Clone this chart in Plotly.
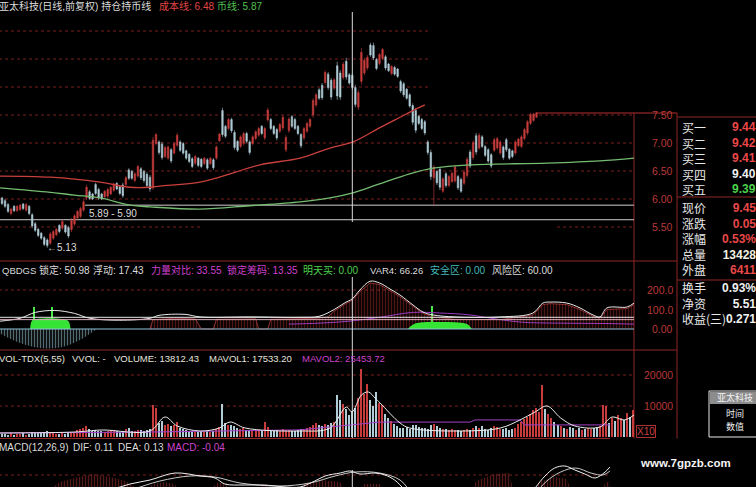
import plotly.graph_objects as go

W, H = 756, 487
FONT = "Liberation Sans, Noto Sans CJK SC, sans-serif"
CJK = "Noto Sans CJK SC, sans-serif"

# ---------------- daily candles, oldest first ----------------
opens = [
    6.02, 5.97, 5.90, 5.74, 5.87, 5.79, 5.81, 5.91, 5.80, 5.87,
    5.72, 5.56, 5.46, 5.39, 5.31, 5.27, 5.21, 5.30, 5.36, 5.53,
    5.48, 5.53, 5.49, 5.45, 5.55, 5.66, 5.69, 5.80, 6.02, 6.13,
    6.09, 6.26, 6.17, 6.09, 6.04, 6.05, 6.09, 6.15, 6.28, 6.22,
    6.25, 6.26, 6.52, 6.49, 6.33, 6.41, 6.54, 6.49, 6.44, 6.39,
    6.20, 6.99, 7.02, 6.98, 6.76, 6.73, 6.88, 6.82, 6.96, 7.02,
    6.99, 6.86, 6.80, 6.72, 6.64, 6.73, 6.71, 6.63, 6.70, 6.63,
    6.70, 6.73, 7.04, 7.58, 7.30, 7.26, 7.42, 7.19, 7.03, 6.94,
    6.99, 7.17, 7.02, 6.99, 7.08, 7.14, 7.30, 7.09, 7.41, 7.42,
    7.30, 7.24, 7.21, 7.27, 6.88, 7.22, 7.47, 7.42, 7.30, 7.15,
    7.09, 7.21, 7.30, 7.50, 7.68, 7.95, 8.03, 8.08, 8.23, 8.12,
    7.98, 8.38, 8.25, 8.17, 8.46, 8.22, 8.21, 7.99, 7.64, 8.10,
    8.25, 8.34, 8.75, 8.74, 8.49, 8.42, 8.51, 8.54, 8.41, 8.24,
    8.35, 8.32, 8.10, 8.06, 7.96, 7.86, 7.67, 7.58, 7.48, 7.42,
    7.38, 7.02, 6.83, 6.38, 6.49, 6.53, 6.14, 6.45, 6.24, 6.31,
    6.32, 6.40, 6.35, 6.28, 6.42, 6.84, 6.74, 7.13, 6.91, 7.11,
    6.94, 6.88, 6.79, 6.87, 6.91, 6.82, 6.93, 7.06, 6.89, 6.86,
    6.82, 6.95, 6.94, 7.08, 7.18, 7.35, 7.40, 7.46,
]
highs = [
    6.04, 6.00, 5.93, 5.84, 5.89, 5.89, 5.91, 5.93, 5.93, 5.89,
    5.75, 5.59, 5.48, 5.41, 5.34, 5.30, 5.41, 5.45, 5.48, 5.55,
    5.63, 5.55, 5.52, 5.66, 5.73, 5.80, 5.86, 5.98, 6.25, 6.16,
    6.11, 6.29, 6.20, 6.11, 6.16, 6.20, 6.23, 6.29, 6.30, 6.25,
    6.29, 6.41, 6.55, 6.52, 6.48, 6.61, 6.57, 6.52, 6.48, 6.43,
    7.11, 7.18, 7.05, 7.02, 6.95, 6.96, 6.91, 7.02, 7.18, 7.05,
    7.02, 6.88, 6.82, 6.75, 6.79, 6.75, 6.73, 6.75, 6.73, 6.75,
    6.73, 6.96, 7.18, 7.63, 7.32, 7.45, 7.45, 7.23, 7.05, 7.14,
    7.20, 7.20, 7.05, 7.14, 7.23, 7.29, 7.32, 7.29, 7.63, 7.45,
    7.32, 7.27, 7.36, 7.50, 7.14, 7.46, 7.50, 7.45, 7.32, 7.18,
    7.29, 7.38, 7.45, 7.80, 7.89, 7.98, 8.07, 8.30, 8.27, 8.16,
    8.16, 8.45, 8.30, 8.45, 8.52, 8.25, 8.25, 8.04, 7.95, 8.70,
    8.52, 8.57, 8.79, 8.79, 8.52, 8.61, 8.70, 8.57, 8.43, 8.39,
    8.38, 8.34, 8.13, 8.09, 7.98, 7.89, 7.71, 7.63, 7.50, 7.45,
    7.41, 7.05, 6.88, 6.61, 6.52, 6.57, 6.39, 6.48, 6.43, 6.48,
    6.61, 6.43, 6.38, 6.52, 6.75, 6.88, 7.05, 7.18, 7.18, 7.14,
    6.96, 6.91, 6.82, 7.09, 7.11, 7.05, 6.96, 7.09, 6.91, 6.88,
    7.05, 7.09, 7.14, 7.27, 7.41, 7.54, 7.54, 7.55,
]
lows = [
    5.89, 5.84, 5.75, 5.71, 5.77, 5.77, 5.79, 5.80, 5.77, 5.71,
    5.48, 5.41, 5.32, 5.27, 5.16, 5.13, 5.18, 5.27, 5.34, 5.39,
    5.45, 5.38, 5.30, 5.41, 5.52, 5.63, 5.66, 5.77, 5.98, 5.98,
    5.98, 6.07, 5.98, 5.98, 6.02, 6.02, 6.07, 6.13, 6.16, 6.07,
    6.02, 6.23, 6.34, 6.34, 6.30, 6.38, 6.34, 6.29, 6.20, 6.13,
    6.16, 6.96, 6.79, 6.70, 6.73, 6.70, 6.64, 6.79, 6.93, 6.84,
    6.79, 6.70, 6.64, 6.55, 6.61, 6.57, 6.55, 6.61, 6.52, 6.61,
    6.52, 6.70, 7.02, 7.11, 7.09, 7.23, 7.18, 6.88, 6.84, 6.91,
    6.96, 7.00, 6.79, 6.96, 7.05, 7.11, 7.14, 7.05, 7.38, 7.23,
    7.14, 7.05, 7.18, 7.23, 6.84, 7.18, 7.27, 7.23, 7.14, 6.91,
    7.05, 7.18, 7.27, 7.45, 7.64, 7.77, 7.77, 8.04, 7.95, 7.77,
    7.95, 7.77, 7.77, 8.13, 8.13, 8.04, 7.95, 7.64, 7.59, 8.04,
    8.21, 8.30, 8.54, 8.48, 8.30, 8.39, 8.48, 8.30, 8.27, 8.21,
    8.20, 8.16, 7.89, 7.82, 7.77, 7.63, 7.32, 7.18, 7.32, 7.23,
    7.14, 6.79, 6.34, 5.89, 6.25, 6.16, 6.11, 6.20, 6.21, 6.29,
    6.29, 6.16, 6.11, 6.25, 6.38, 6.55, 6.70, 6.79, 6.88, 6.91,
    6.75, 6.64, 6.55, 6.84, 6.88, 6.79, 6.70, 6.84, 6.70, 6.73,
    6.79, 6.93, 6.91, 7.05, 7.14, 7.32, 7.38, 7.45,
]
closes = [
    5.92, 5.87, 5.78, 5.82, 5.79, 5.87, 5.89, 5.83, 5.90, 5.74,
    5.52, 5.44, 5.35, 5.30, 5.19, 5.17, 5.38, 5.42, 5.46, 5.42,
    5.60, 5.41, 5.34, 5.62, 5.70, 5.78, 5.83, 5.95, 6.21, 6.01,
    6.00, 6.10, 6.02, 6.00, 6.14, 6.17, 6.21, 6.27, 6.18, 6.10,
    6.06, 6.38, 6.37, 6.37, 6.45, 6.58, 6.38, 6.33, 6.24, 6.18,
    7.05, 7.15, 6.83, 6.74, 6.92, 6.93, 6.68, 6.99, 7.14, 6.87,
    6.82, 6.73, 6.67, 6.58, 6.76, 6.60, 6.58, 6.73, 6.55, 6.73,
    6.56, 6.93, 7.16, 7.15, 7.12, 7.42, 7.22, 6.92, 6.87, 7.11,
    7.17, 7.03, 6.83, 7.11, 7.20, 7.26, 7.17, 7.26, 7.59, 7.26,
    7.17, 7.09, 7.33, 7.46, 7.10, 7.43, 7.30, 7.26, 7.17, 6.95,
    7.26, 7.35, 7.42, 7.76, 7.86, 7.80, 7.81, 8.26, 7.99, 7.82,
    8.13, 7.84, 7.82, 8.41, 8.18, 8.07, 7.99, 7.69, 7.90, 8.62,
    8.48, 8.53, 8.57, 8.52, 8.33, 8.58, 8.67, 8.34, 8.29, 8.37,
    8.23, 8.19, 7.93, 7.86, 7.80, 7.66, 7.37, 7.23, 7.35, 7.26,
    7.18, 6.83, 6.40, 6.57, 6.29, 6.21, 6.36, 6.24, 6.40, 6.46,
    6.57, 6.20, 6.14, 6.48, 6.71, 6.59, 7.01, 6.84, 7.14, 6.94,
    6.78, 6.68, 6.59, 7.06, 7.08, 7.02, 6.74, 6.88, 6.73, 6.76,
    7.02, 7.07, 7.11, 7.24, 7.38, 7.51, 7.52, 7.54,
]
# up (1) / down (0) for the later sessions traded above the visible price window
hidden_up = [1, 1, 0, 1, 1, 0, 0, 1, 0, 1, 0, 0, 1, 0, 1, 0,
             1, 1, 0, 0, 1, 1, 1, 0, 1, 0, 1, 1, 0, 1, 0, 1]

# cost line (red) and holding line (green), sampled by session index
cost_i = [-0.7, 16, 32.5, 42.4, 49, 52.3, 65.6, 72, 85.4, 98.7, 108.6, 116.2, 125, 131.8, 138.4, 140]
cost_v = [6.41, 6.39, 6.30, 6.21, 6.21, 6.23, 6.30, 6.39, 6.61, 6.73, 6.91, 7.02, 7.27, 7.46, 7.64, 7.68]
hold_i = [-0.7, 16, 24, 32.5, 42.4, 49, 65.6, 82, 98.7, 108.6, 116.2, 125, 135, 142.7, 155, 180.5, 198, 209.3]
hold_v = [6.20, 6.12, 6.07, 6.02, 5.89, 5.86, 5.82, 5.88, 5.95, 6.02, 6.11, 6.27, 6.45, 6.55, 6.61, 6.64, 6.68, 6.73]

band_start_i = 27.5
band_top = 5.89
band_low = 5.63
cursor_i = 116
price_ticks = [7.5, 7.0, 6.5, 6.0, 5.5]
price_grid = [9.0, 8.5, 8.0, 7.5, 7.0, 6.5, 6.0, 5.5]

# ---------------- QBDGS indicator ----------------
qb_line_i = [-0.7, 6, 11, 17.5, 24, 29, 39, 49, 52, 60.6, 65.6, 82, 98.7, 105, 110, 113.6, 116, 118.5,
             121.9, 125, 128.5, 131.8, 136.1, 139.4, 142.7, 150, 165, 175.8, 179.1, 181.5, 187, 191.4,
             195.7, 198, 200.3, 207, 209.3]
qb_line_v = [40, 55, 85, 95, 80, 55, 45, 55, 70, 75, 62, 62, 60, 65, 100, 135, 155, 200,
             245, 236, 205, 174, 123, 87, 72, 62, 62, 82, 133, 138, 133, 108,
             72, 62, 108, 113, 133]
qb_bar_i = [49, 50, 57, 64, 66, 70, 71, 84, 85, 88, 89, 104, 108, 110, 113.6, 116, 118.5, 121.9, 125,
            128.5, 131.8, 136.1, 139.4, 142.7, 150, 165, 175.8, 179.1, 181.5, 187, 191.4, 195.7, 198,
            200.3, 207, 209.3]
qb_bar_v = [0, 48, 55, 52, 0, 0, 50, 52, 0, 0, 50, 55, 62, 92, 128, 148, 192, 236, 228,
            197, 166, 116, 80, 62, 50, 48, 72, 125, 130, 125, 100, 65, 55,
            100, 105, 125]
qb_neg_i = [-1, 6, 12.6, 19.2, 25.8, 30, 31.5]
qb_neg_v = [-20, -72, -97, -95, -56, -15, 0]
buy_zone1_i = [9.3, 10, 12, 16, 20, 22, 22.7]
buy_zone1_v = [0, 45, 52, 55, 50, 40, 0]
buy_zone2_i = [134.4, 136, 139, 145, 150, 154, 155.6]
buy_zone2_v = [0, 22, 34, 36, 34, 25, 0]
buy_spike_i = [10.6, 16.6, 142.4]
buy_spike_v = [113, 113, 118]
qb_purple_i = [95, 105, 115, 125, 136, 145, 155, 162, 172, 185, 200, 209.3]
qb_purple_v = [25, 30, 40, 60, 85, 82, 72, 55, 35, 30, 28, 25]
qb_risk = 60
qb_lock = 48
qb_ticks = [(200, "200.0"), (100, "100.0"), (0, "0.00")]

# ---------------- volume ----------------
volume = [
    900, 1100, 800, 1200, 700, 1000, 900, 1300, 800, 1100,
    1500, 1400, 1200, 1300, 1600, 1800, 1400, 1200, 1100, 1000,
    1300, 900, 1200, 1500, 1400, 2200, 2500, 2800, 3500, 2600,
    2000, 2400, 1800, 2000, 1700, 1900, 2100, 2300, 1800, 1600,
    2000, 2500, 2800, 2000, 1900, 2400, 2100, 1800, 2200, 2600,
    10300, 9400, 4500, 5200, 3800, 4200, 3500, 3900, 4800, 3000,
    2600, 2200, 1900, 2000, 1700, 1500, 1800, 1600, 2000, 1700,
    1900, 2500, 3200, 10600, 4500, 3800, 4000, 3500, 2800, 2500,
    3000, 2400, 2200, 2000, 2300, 1800, 2100, 5000, 3200, 2400,
    2000, 2200, 1900, 2600, 2100, 2300, 1800, 2000, 2200, 2500,
    2100, 2800, 3200, 3800, 4500, 4000, 3600, 4200, 3900, 4600,
    5000, 13500, 12000, 10500, 9000, 7000, 8500, 9500, 12500, 21900,
    14000, 17000, 12000, 10000, 14500, 11000, 10300, 7500, 6000, 5200,
    4200, 3500, 3000, 2800, 3200, 2600, 3800, 4000, 3300, 2800,
    3000, 2600, 3800, 4200, 3600, 2900, 2500, 2700, 2300, 2600,
    2100, 2400, 2000, 2300, 2600, 2200, 2800, 3400, 3000, 3600,
    2600, 2400, 2800, 3500, 3100, 2700, 2500, 2900, 2300, 2600,
    3000, 4200, 5000, 5800, 6500, 7500, 8700, 9500, 8200, 16800,
    9000, 7500, 6000, 4800, 4000, 3500, 3000, 2600, 3200, 2800,
    2400, 2900, 2200, 2600, 3000, 2500, 2800, 3300, 3600, 10300,
    10000, 4500, 6200, 5200, 7000, 6000, 5600, 7600, 6400, 8700,
]
mavol1_i = [-0.7, 24, 33, 49, 54, 58, 65.6, 72, 75.5, 80.5, 98.7, 108.6, 114, 115.9, 119, 121.3,
            123.5, 125.2, 131.8, 135, 152, 165, 171.5, 176.5, 180.5, 185, 189.7, 198, 202, 206, 209.3]
mavol1_v = [1290, 1610, 2260, 1935, 6450, 3550, 1935, 2900, 4840, 2900, 1935, 2900, 9680, 8065, 13550, 14520,
            12580, 10970, 4520, 2900, 1935, 2900, 5480, 8065, 10000, 6130, 3550, 3230, 6450, 5480, 7100]
mavol2_i = [-0.7, 49, 98.7, 112, 125, 155, 156.6, 171.5, 173, 201.3]
mavol2_v = [1300, 1600, 2300, 3500, 4800, 4800, 5500, 5500, 3900, 3900]
vol_ticks = [(20000, "20000"), (10000, "10000")]

# ---------------- MACD ----------------
dif_i = [29, 35.8, 42.4, 49, 57.3, 65.6, 70.5, 73.8, 80.5, 87, 93.7, 98.7, 103.6, 107, 112, 115.2, 118.5,
         123.5, 126.8, 130, 133.4, 136.8, 145, 160, 170, 173.2, 176.5, 179.8, 183, 186.4, 189.7, 193,
         196.4, 199.7, 201.3]
dif_v = [-0.08, -0.03, 0.03, 0.07, 0.14, 0.11, 0.09, 0.03, 0.02, 0.02, 0.00, 0.00, 0.06, 0.11, 0.14, 0.16, 0.13,
         0.14, 0.12, 0.07, -0.03, -0.13, -0.30, -0.35, -0.25, -0.13, -0.01, 0.11, 0.19, 0.21, 0.17, 0.13,
         0.09, 0.15, 0.20]
dea_i = [29, 42.4, 52.3, 62.3, 70.5, 78.8, 92, 102, 110.3, 117, 125, 131.8, 137, 150, 165, 174.8, 180, 185,
         190, 195, 199, 201.3]
dea_v = [-0.12, -0.03, 0.06, 0.11, 0.10, 0.04, 0.01, 0.04, 0.11, 0.15, 0.14, 0.07, -0.10, -0.30, -0.30, -0.13,
         0.05, 0.15, 0.19, 0.14, 0.12, 0.16]
macd_i = [17, 19, 24, 30, 36, 41, 44, 49, 50, 54, 57, 58, 70, 71, 74, 75, 86, 87, 88, 99, 100, 106, 112,
          113, 119, 120, 125, 126, 156, 157, 163, 168, 169, 177, 178, 183, 187, 188, 199, 200, 201, 201.5]
macd_v = [0, 0.05, 0.09, 0.13, 0.10, 0.06, 0, 0, 0.03, 0.05, 0.03, 0, 0, 0.04, 0.04, 0, 0, 0.03, 0, 0,
          0.04, 0.07, 0.05, 0, 0, 0.03, 0.03, 0, 0, 0.06, 0.13, 0.14, 0, 0, 0.05, 0.10, 0.08, 0, 0, 0.05,
          0.05, 0]
macd_grid = 0.12

# ---------------- quote panel (three boxed groups) ----------------
RED_Q, WHITE_Q, GREEN_Q = "#e84848", "#f0f0f0", "#4cd04c"
quote_groups = [
    (158, [("买一", "9.44", RED_Q), ("买二", "9.42", RED_Q), ("买三", "9.41", RED_Q),
           ("买四", "9.40", WHITE_Q), ("买五", "9.39", GREEN_Q)]),
    (238.5, [("现价", "9.45", RED_Q), ("涨跌", "0.05", RED_Q), ("涨幅", "0.53%", RED_Q),
             ("总量", "13428", "#f0f0e0"), ("外盘", "6411", RED_Q)]),
    (303, [("换手", "0.93%", WHITE_Q), ("净资", "5.51", WHITE_Q), ("收益(三)", "0.271", WHITE_Q)]),
]
popup_title = "亚太科技"
popup_items = [("时间", 413), ("数值", 426)]

# ---------------- colours ----------------
UP = "#c83c3c"
DOWN = "#b0ccd6"
GRID = "#7a2020"
FRAME = "#8e2626"
AXIS_TXT = "#b83838"
WHITE = "#dcdcdc"
MAGENTA = "#cc44cc"


def px(x):
    return x / W


def py(y):
    return 1 - y / H


def dom(top, bot):
    return [1 - bot / H, 1 - top / H]


x_dom = [0, 634 / W]
x_rng = [-0.662, 209.27]

fig = go.Figure()

# price panel
fig.add_trace(go.Candlestick(
    x=list(range(len(opens))), open=opens, high=highs, low=lows, close=closes,
    increasing=dict(line=dict(color=UP, width=0.6), fillcolor=UP),
    decreasing=dict(line=dict(color=DOWN, width=0.6), fillcolor=DOWN),
    whiskerwidth=0, hoverinfo="skip", xaxis="x", yaxis="y"))
fig.add_trace(go.Scatter(x=cost_i, y=cost_v, mode="lines", line=dict(color="#c8403c", width=1.3, shape="spline"),
                         hoverinfo="skip", xaxis="x", yaxis="y"))
fig.add_trace(go.Scatter(x=hold_i, y=hold_v, mode="lines", line=dict(color="#74bc70", width=1.3, shape="spline"),
                         hoverinfo="skip", xaxis="x", yaxis="y"))

# QBDGS panel
fig.add_trace(go.Scatter(x=qb_neg_i, y=qb_neg_v, mode="lines", line=dict(width=0, shape="spline"), fill="tozeroy",
                         fillcolor="rgba(0,0,0,0)",
                         fillpattern=dict(shape="|", fgcolor="#a8d4e6", bgcolor="rgba(0,0,0,0)", size=3, solidity=0.45),
                         hoverinfo="skip", xaxis="x2", yaxis="y2"))
fig.add_trace(go.Scatter(x=qb_bar_i, y=qb_bar_v, mode="lines", line=dict(width=0.8, color="#b03a3a"), fill="tozeroy",
                         fillcolor="rgba(0,0,0,0)",
                         fillpattern=dict(shape="|", fgcolor="#9e2c2c", bgcolor="rgba(0,0,0,0)", size=3, solidity=0.45),
                         hoverinfo="skip", xaxis="x2", yaxis="y2"))
for zi, zv in ((buy_zone1_i, buy_zone1_v), (buy_zone2_i, buy_zone2_v)):
    fig.add_trace(go.Scatter(x=zi, y=zv, mode="lines", line=dict(width=0, shape="spline"), fill="tozeroy",
                             fillcolor="#36e436", hoverinfo="skip", xaxis="x2", yaxis="y2"))
fig.add_trace(go.Bar(x=buy_spike_i, y=buy_spike_v, width=0.45, marker=dict(color="#48e848", line=dict(width=0)),
                     hoverinfo="skip", xaxis="x2", yaxis="y2"))
fig.add_trace(go.Scatter(x=qb_purple_i, y=qb_purple_v, mode="lines", line=dict(color="#9a3cc0", width=1, shape="spline"),
                         hoverinfo="skip", xaxis="x2", yaxis="y2"))
fig.add_trace(go.Scatter(x=qb_line_i, y=qb_line_v, mode="lines", line=dict(color="#ececec", width=1, shape="spline"),
                         hoverinfo="skip", xaxis="x2", yaxis="y2"))

# volume panel
vol_colors = []
for i in range(len(volume)):
    if i < len(closes):
        up = closes[i] >= opens[i]
    else:
        up = hidden_up[i - len(closes)] == 1
    vol_colors.append(UP if up else DOWN)
fig.add_trace(go.Bar(x=list(range(len(volume))), y=volume, width=0.45,
                     marker=dict(color=vol_colors, line=dict(width=0)), hoverinfo="skip", xaxis="x3", yaxis="y3"))
fig.add_trace(go.Scatter(x=mavol2_i, y=mavol2_v, mode="lines", line=dict(color="#a040c8", width=1),
                         hoverinfo="skip", xaxis="x3", yaxis="y3"))
fig.add_trace(go.Scatter(x=mavol1_i, y=mavol1_v, mode="lines", line=dict(color="#ececec", width=1, shape="spline"),
                         hoverinfo="skip", xaxis="x3", yaxis="y3"))

# MACD panel
fig.add_trace(go.Scatter(x=macd_i, y=macd_v, mode="lines", line=dict(width=0), fill="tozeroy",
                         fillcolor="rgba(0,0,0,0)",
                         fillpattern=dict(shape="|", fgcolor="#a83232", bgcolor="rgba(0,0,0,0)", size=3, solidity=0.45),
                         hoverinfo="skip", xaxis="x4", yaxis="y4"))
fig.add_trace(go.Scatter(x=dea_i, y=dea_v, mode="lines", line=dict(color="#c8c8c8", width=1, shape="spline"),
                         hoverinfo="skip", xaxis="x4", yaxis="y4"))
fig.add_trace(go.Scatter(x=dif_i, y=dif_v, mode="lines", line=dict(color="#f0f0f0", width=1, shape="spline"),
                         hoverinfo="skip", xaxis="x4", yaxis="y4"))

# ---------------- shapes ----------------
shapes = []


def hline(y, x0, x1, xref, yref, color, width=1, dash="solid", layer="below"):
    shapes.append(dict(type="line", xref=xref, yref=yref, x0=x0, x1=x1, y0=y, y1=y,
                       line=dict(color=color, width=width, dash=dash), layer=layer))


def vline(x, y0, y1, xref, yref, color, width=1, layer="below"):
    shapes.append(dict(type="line", xref=xref, yref=yref, x0=x, x1=x, y0=y0, y1=y1,
                       line=dict(color=color, width=width), layer=layer))


for p in price_grid:
    if p > 7.5:
        spans = [(-1, 141.7)]
    elif p == 5.5:
        spans = [(-1, 65.6), (183.8, 209.3)]
    else:
        spans = [(-1, 209.3)]
    for a, b in spans:
        hline(p, a, b, "x", "y", GRID, 1, "dot")

hline(band_top, band_start_i, 209.3, "x", "y", "#cfcfcf", 1)
hline(band_low, -1, 209.3, "x", "y", "#cfcfcf", 1)

hline(200, -1, 209.3, "x2", "y2", GRID, 1, "dot")
hline(qb_risk, -1, 209.3, "x2", "y2", "#e6e6e6", 1, layer="above")
hline(qb_lock, -1, 209.3, "x2", "y2", "#d8a8b8", 1, layer="above")
hline(0, -1, 209.3, "x2", "y2", "#90c4dc", 1, layer="above")

for v, _ in vol_ticks:
    hline(v, -1, 209.3, "x3", "y3", GRID, 1, "dot")
hline(macd_grid, -1, 201.6, "x4", "y4", GRID, 1, "dot")

# crosshair
vline(cursor_i, 9.34, 5.59, "x", "y", "#d8d8d8", 1, "above")
vline(cursor_i, 267, -108, "x2", "y2", "#d8d8d8", 1, "above")
vline(cursor_i, 0, 1, "x3", "y3 domain", "#d8d8d8", 1, "above")
vline(cursor_i, 0.17, 0, "x4", "y4", "#d8d8d8", 1, "above")

# frames and separators (pixel layout)
hline(py(261), 0, px(677), "paper", "paper", FRAME, 1)
hline(py(350), 0, px(677), "paper", "paper", FRAME, 1)
hline(py(438.5), 0, px(610), "paper", "paper", FRAME, 1)
hline(py(113), px(537), px(677), "paper", "paper", "#b83030", 1)
vline(px(634), py(113), py(438.5), "paper", "paper", FRAME, 1)
vline(px(677), py(113), py(438.5), "paper", "paper", FRAME, 1)
for yy in (117, 197, 280):
    hline(py(yy), px(677), 1, "paper", "paper", FRAME, 1)

# quote popup
shapes.append(dict(type="rect", xref="paper", yref="paper", x0=px(709), x1=px(762), y0=py(437), y1=py(391),
                   line=dict(color="#e8e8e8", width=1), fillcolor="#000000", layer="above"))
shapes.append(dict(type="rect", xref="paper", yref="paper", x0=px(710), x1=px(762), y0=py(404), y1=py(392),
                   line=dict(width=0), fillcolor="#8c8c8c", layer="above"))

# ---------------- text ----------------
ann = []


def text(x, y, s, color=WHITE, size=10, anchor="left", family=FONT, **kw):
    ann.append(dict(xref="paper", yref="paper", x=px(x), y=py(y), text=s, showarrow=False,
                    xanchor=anchor, yanchor="middle", font=dict(color=color, size=size, family=family), **kw))


# headers
text(-3, 6, "亚太科技(日线,前复权) 持仓持币线", WHITE, 10)
text(157, 6, "成本线: 6.48", "#e04646", 10)
text(215, 6, "币线: 5.87", "#52c052", 10)

text(0, 270, "QBDGS", WHITE, 9.5)
text(37, 270, "锁定: 50.98", WHITE, 10)
text(146, 270, "浮动: 17.43", WHITE, 10, anchor="right")
text(149, 270, "力量对比: 33.55", "#d040d0", 10)
text(225, 270, "锁定筹码: 13.35", "#d040d0", 10)
text(301, 270, "明天买: 0.00", "#4cd04c", 10)
text(368, 270, "VAR4: 66.26", WHITE, 9.5)
text(428, 270, "安全区: 0.00", "#40b8b8", 10)
text(490, 270, "风险区: 60.00", WHITE, 10)

text(-3, 358, "VOL-TDX(5,55)", "#e4e4dc", 9.5)
text(70, 358, "VVOL: -", "#e4e4dc", 9.5)
text(112, 358, "VOLUME: 13812.43", "#e4e4dc", 9.5)
text(207, 358, "MAVOL1: 17533.20", "#e4e4dc", 9.5)
text(300, 358, "MAVOL2: 25453.72", MAGENTA, 9.5)

text(-3, 447, "MACD(12,26,9)", WHITE, 10)
text(71, 447, "DIF: 0.11", WHITE, 10)
text(116, 447, "DEA: 0.13", WHITE, 10)
text(165, 447, "MACD: -0.04", MAGENTA, 10)

# right-hand scales
for v in price_ticks:
    ann.append(dict(xref="paper", yref="y", x=px(675), y=v, text=f"{v:.2f}", showarrow=False,
                    xanchor="right", yanchor="middle", font=dict(color=AXIS_TXT, size=10.5, family=FONT)))
for v, s in qb_ticks:
    ann.append(dict(xref="paper", yref="y2", x=px(675), y=v, text=s, showarrow=False,
                    xanchor="right", yanchor="middle", font=dict(color=AXIS_TXT, size=10.5, family=FONT)))
for v, s in vol_ticks:
    ann.append(dict(xref="paper", yref="y3", x=px(675), y=v, text=s, showarrow=False,
                    xanchor="right", yanchor="middle", font=dict(color=AXIS_TXT, size=10.5, family=FONT)))
text(645.5, 431, "X10", "#c84040", 10, anchor="center", bordercolor="#a83030", borderwidth=1, borderpad=0)

# chart labels
low_i = lows.index(min(lows))
ann.append(dict(xref="x", yref="y", x=low_i, y=min(lows), text=f"←{min(lows):.2f}", showarrow=False,
                xanchor="left", yanchor="middle", xshift=-2, font=dict(color=WHITE, size=10, family=FONT)))
ann.append(dict(xref="x", yref="y", x=28, y=5.75, text=f"{band_top:.2f} - 5.90", showarrow=False,
                xanchor="left", yanchor="middle", font=dict(color=WHITE, size=10, family=FONT)))

# quote list: one text block per boxed group
for yc, rows in quote_groups:
    labels = "<br>".join(lab for lab, _, _ in rows)
    values = "<br>".join(f"<span style='color:{col}'><b>{val}</b></span>" for _, val, col in rows)
    text(680, yc, labels, "#e8e8e8", 12, family=CJK, align="left")
    text(758, yc, values, WHITE_Q, 12, anchor="right", align="right")

# popup title bar and items
text(735, 397.5, popup_title, "#f4f4f4", 9, anchor="center", family=CJK)
for lab, yy in popup_items:
    text(735, yy, lab, "#f0f0f0", 9, anchor="center", family=CJK)

# footer
text(638, 463, "<b>www.7gpzb.com</b>", "#f4f4f4", 11.5)

axis_common = dict(visible=False, fixedrange=True)
fig.update_layout(
    width=W, height=H, margin=dict(l=0, r=0, t=0, b=0),
    paper_bgcolor="#000000", plot_bgcolor="#000000", showlegend=False,
    font=dict(family=FONT, size=10, color=WHITE),
    bargap=0,
    xaxis=dict(domain=x_dom, range=x_rng, anchor="y", rangeslider=dict(visible=False), **axis_common),
    xaxis2=dict(domain=x_dom, range=x_rng, anchor="y2", **axis_common),
    xaxis3=dict(domain=x_dom, range=x_rng, anchor="y3", **axis_common),
    xaxis4=dict(domain=x_dom, range=x_rng, anchor="y4", **axis_common),
    yaxis=dict(domain=dom(0, 261), range=[4.893, 9.554], anchor="x", **axis_common),
    yaxis2=dict(domain=dom(261, 350), range=[-107.7, 348.7], anchor="x2", **axis_common),
    yaxis3=dict(domain=dom(350, 438), range=[-323, 28065], anchor="x3", **axis_common),
    yaxis4=dict(domain=dom(438, 487), range=[0, 0.49], anchor="x4", **axis_common),
    shapes=shapes,
    annotations=ann,
)

fig.write_html("out.html")
